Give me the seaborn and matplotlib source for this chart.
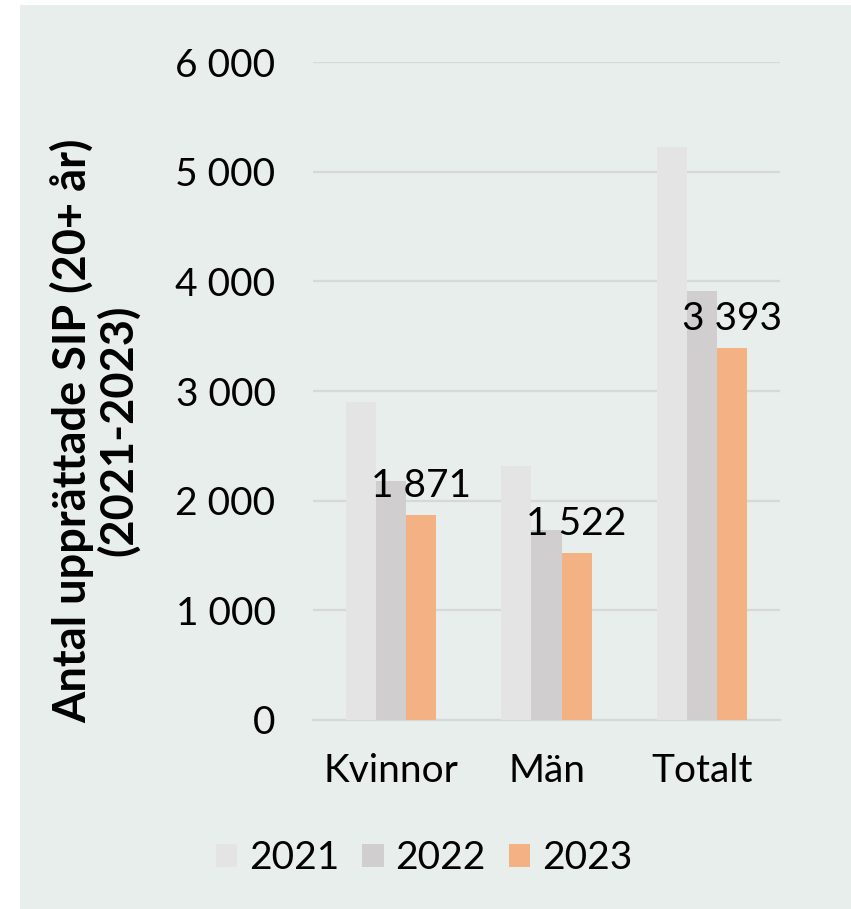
import numpy as np
import pandas as pd
import matplotlib
matplotlib.use("Agg")
import matplotlib.pyplot as plt
import matplotlib.patches as mpatches
import seaborn as sns

# ── Data ─────────────────────────────────────────────────────────────────────
categories  = ["Kvinnor", "Män", "Totalt"]
years       = ["2021", "2022", "2023"]
values_2021 = [2900, 2320, 5225]
values_2022 = [2180, 1730, 3915]
values_2023 = [1871, 1522, 3393]
y_ticks     = [0, 1000, 2000, 3000, 4000, 5000, 6000]

# ── Palette ──────────────────────────────────────────────────────────────────
PANEL  = "#E8EEEC"
GRID   = "#D6D9D8"
C2021  = "#E4E4E4"
C2022  = "#D0CECF"
C2023  = "#F4B183"
TEXT   = "#000000"
FS     = 28

df = pd.DataFrame({
    "kategori": categories * 3,
    "år": [y for y in years for _ in categories],
    "antal": values_2021 + values_2022 + values_2023,
})


def fmt(v):
    return f"{int(v):,}".replace(",", " ")


sns.set_theme(style="white")
plt.rcParams["font.family"] = ["Lato", "DejaVu Sans"]

fig = plt.figure(figsize=(8.51, 9.09), dpi=100)
fig.patch.set_facecolor("white")
fig.patches.append(mpatches.Rectangle((20 / 851, 0), 1, 1 - 5 / 909,
                                      transform=fig.transFigure,
                                      facecolor=PANEL, edgecolor="none",
                                      zorder=-10))

ax = fig.add_axes([313 / 851, 1 - 720 / 909, 467 / 851, 658 / 909])
ax.set_facecolor(PANEL)

sns.barplot(data=df, x="kategori", y="antal", hue="år",
            palette=[C2021, C2022, C2023], saturation=1, width=0.58,
            errorbar=None, linewidth=0, edgecolor="none", ax=ax, zorder=3)

# labels on 2023 bars only
ax.bar_label(ax.containers[2], labels=[fmt(v) for v in values_2023],
             padding=8, fontsize=FS, color=TEXT)

ax.set_ylim(0, 6000)
ax.set_xlim(-0.5, 2.5)
ax.set_yticks(y_ticks)
ax.set_yticklabels([fmt(t) for t in y_ticks], fontsize=FS, color=TEXT)
ax.yaxis.grid(True, color=GRID, linewidth=1.6, zorder=0)
ax.set_axisbelow(True)
ax.tick_params(axis="y", length=0, pad=27)
ax.tick_params(axis="x", which="major", length=0, pad=24, labelsize=FS,
               labelcolor=TEXT)
ax.set_xticks([-0.5, 0.5, 1.5, 2.5], minor=True)
ax.tick_params(axis="x", which="minor", length=9, width=1.6, color=GRID,
               direction="out")

for side in ["top", "right", "left"]:
    ax.spines[side].set_visible(False)
ax.spines["bottom"].set_color(GRID)
ax.spines["bottom"].set_linewidth(1.6)

ax.set_xlabel("")
ax.set_ylabel("Antal upprättade SIP (20+ år)\n(2021-2023)", fontsize=32.5,
              fontweight="bold", color=TEXT, linespacing=1.08)
ax.yaxis.set_label_coords(-0.37, 0.44)

handles, labels = ax.get_legend_handles_labels()
ax.get_legend().remove()
fig.legend(handles, labels, loc="center", bbox_to_anchor=(424 / 851, 1 - 858 / 909),
           ncol=3, frameon=False, fontsize=FS, handlelength=0.55,
           handleheight=0.55, handletextpad=0.3, columnspacing=0.6,
           labelcolor=TEXT)

fig.savefig("out.png", dpi=100, facecolor=fig.get_facecolor())
